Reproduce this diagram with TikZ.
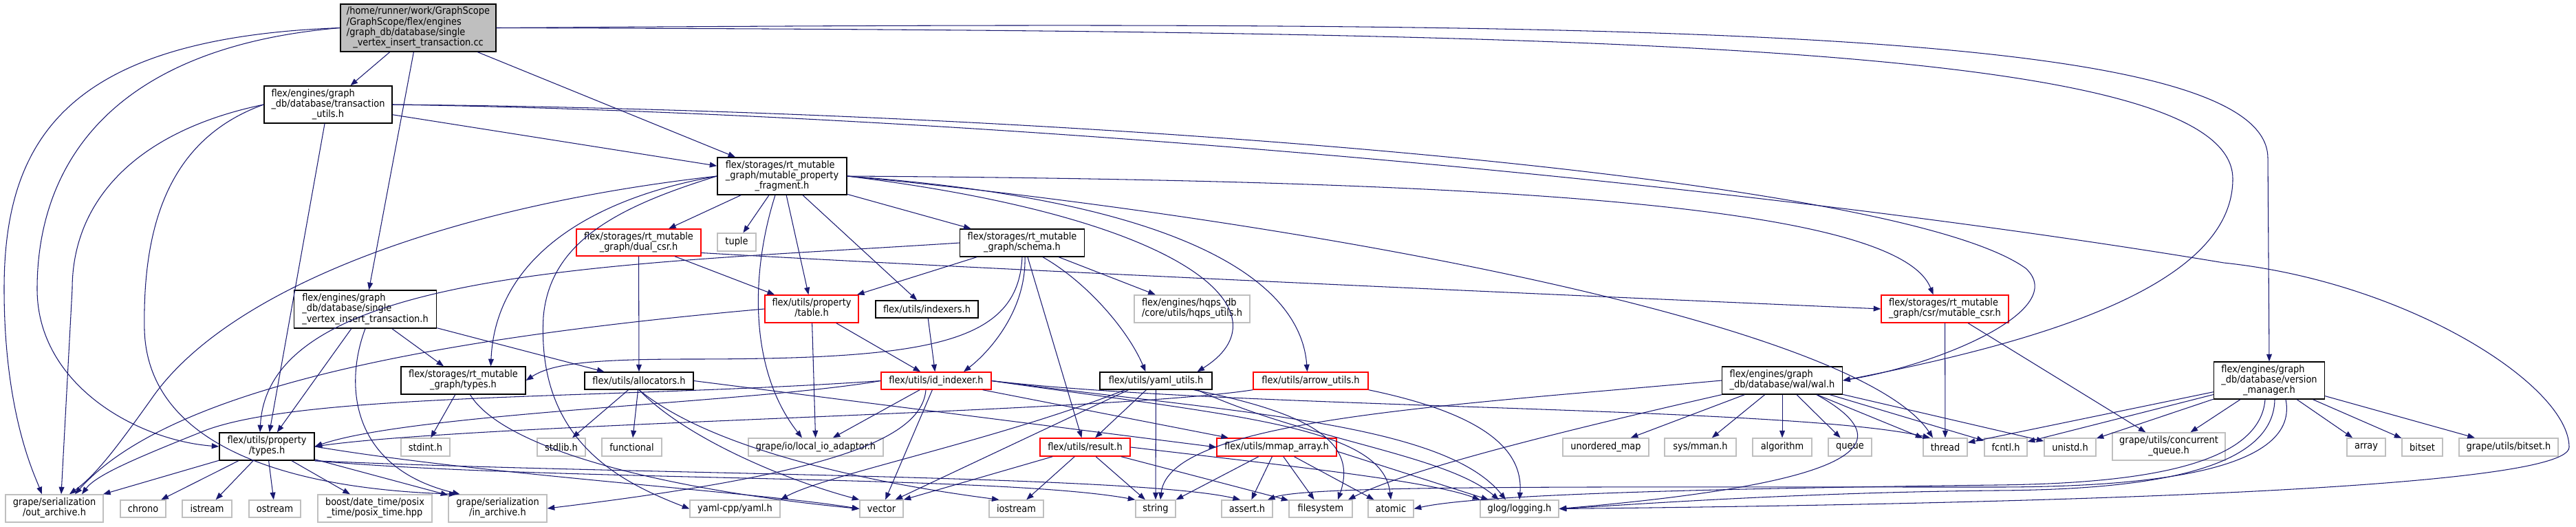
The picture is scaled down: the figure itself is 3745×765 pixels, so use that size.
\documentclass[tikz,border=0pt]{standalone}
\usepackage{fontspec}
\setmainfont{DejaVu Sans Condensed}
\usepackage{tikz}
\usetikzlibrary{arrows.meta,calc}
\definecolor{edgeBlue}{HTML}{191970}
\definecolor{sysGrey}{HTML}{BFBFBF}
\definecolor{rootFill}{HTML}{BFBFBF}
% label: left-aligned lines, last line centred (doxygen style)
\newcommand{\dl}[2]{\begin{tabular}{@{}l@{}}#1\\\multicolumn{1}{@{}c@{}}{#2}\end{tabular}}

\begin{document}
\begin{tikzpicture}[x=0.02cm, y=-0.02cm, >={Triangle[length=6pt,width=4.5pt]},
  box/.style={inner sep=0pt, line width=0.8pt, font=\fontsize{8.2}{8.25}\selectfont},
  sz/.style 2 args={minimum width={#1*0.02cm}, minimum height={#2*0.02cm}},
  doc/.style={box, draw=black},
  sys/.style={box, draw=sysGrey},
  trunc/.style={box, draw=red},
  dep/.style={->, draw=edgeBlue, line width=0.6pt}]
\useasboundingbox (0,0) rectangle (3745,765);

% documented headers
\node[doc, sz={226}{69}, fill=rootFill] (root) at (608,40.5) {\dl{/home/runner/work/GraphScope\\/GraphScope/flex/engines\\/graph\_db/database/single}{\_vertex\_insert\_transaction.cc}};
\node[doc, sz={186}{54}] (tutils) at (477,152) {\dl{flex/engines/graph\\\_db/database/transaction}{\_utils.h}};
\node[doc, sz={188}{54}] (mpf) at (1137,256) {\dl{flex/storages/rt\_mutable\\\_graph/mutable\_property}{\_fragment.h}};
\node[trunc, sz={181}{39}] (dualcsr) at (928.5,352.5) {\dl{flex/storages/rt\_mutable}{\_graph/dual\_csr.h}};
\node[sys, sz={56}{26}] (tuple) at (1071,352) {tuple};
\node[doc, sz={181}{40}] (schema) at (1486,353) {\dl{flex/storages/rt\_mutable}{\_graph/schema.h}};
\node[doc, sz={207}{55}] (svit) at (531,449.5) {\dl{flex/engines/graph\\\_db/database/single}{\_vertex\_insert\_transaction.h}};
\node[trunc, sz={136}{40}] (table) at (1180,449) {\dl{flex/utils/property}{/table.h}};
\node[doc, sz={149}{25}] (indexers) at (1347.5,449.5) {flex/utils/indexers.h};
\node[sys, sz={168}{40}] (hqps) at (1733,449) {\dl{flex/engines/hqps\_db}{/core/utils/hqps\_utils.h}};
\node[trunc, sz={185}{40}] (mutcsr) at (2827.5,449) {\dl{flex/storages/rt\_mutable}{\_graph/csr/mutable\_csr.h}};
\node[doc, sz={181}{40}] (rttypes) at (673.5,553) {\dl{flex/storages/rt\_mutable}{\_graph/types.h}};
\node[doc, sz={158}{25}] (alloc) at (929,553.5) {flex/utils/allocators.h};
\node[trunc, sz={160}{25}] (idindexer) at (1361,553.5) {flex/utils/id\_indexer.h};
\node[doc, sz={163}{25}] (yamlutils) at (1680.5,553.5) {flex/utils/yaml\_utils.h};
\node[trunc, sz={167}{25}] (arrowutils) at (1905.5,553.5) {flex/utils/arrow\_utils.h};
\node[doc, sz={175}{40}] (wal) at (2591,553) {\dl{flex/engines/graph}{\_db/database/wal/wal.h}};
\node[doc, sz={161}{54}] (vmgr) at (3299,553) {\dl{flex/engines/graph\\\_db/database/version}{\_manager.h}};
\node[doc, sz={138}{40}] (ptypes) at (388,649) {\dl{flex/utils/property}{/types.h}};
\node[trunc, sz={131}{26}] (result) at (1577.5,650) {flex/utils/result.h};
\node[trunc, sz={174}{26}] (mmap) at (1856,650) {flex/utils/mmap\_array.h};

% system and external headers
\foreach \nm/\cx/\bw/\tx in {stdint/618.5/71/stdint.h, stdlib/816/70/stdlib.h, functional/918.5/87/functional,
    unorderedmap/2334.5/125/unordered\_map, algorithm/2591/86/algorithm, queue/2689.5/63/queue,
    thread/2828/64/thread, fcntl/2916/62/fcntl.h, unistd/3009.5/75/unistd.h, array/3440/56/array, bitset/3521.5/59/bitset}
  \node[sys, sz={\bw}{26}] (\nm) at (\cx,650) {\tx};
\node[sys, sz={196}{26}] (localio) at (1186,650) {grape/io/local\_io\_adaptor.h};
\node[sys, sz={104}{26}] (sysmman) at (2472,650) {sys/mman.h};
\node[sys, sz={144}{26}] (gbitset) at (3647,650) {grape/utils/bitset.h};
\node[sys, sz={164}{40}] (cqueue) at (3153,649) {\dl{grape/utils/concurrent}{\_queue.h}};
\foreach \nm/\cx/\bw/\tx in {chrono/208/66/chrono, istream/301/72/istream, ostream/399.5/75/ostream,
    vector/1281.5/63/vector, iostream/1477.5/79/iostream, string/1680/58/string, assert/1813/74/assert.h,
    filesystem/1920/92/filesystem, atomic/2022/66/atomic}
  \node[sys, sz={\bw}{25}] (\nm) at (\cx,739.5) {\tx};
\node[sys, sz={131}{25}] (yamlcpp) at (1068.5,739.5) {yaml-cpp/yaml.h};
\node[sys, sz={114}{25}] (glog) at (2209,739.5) {glog/logging.h};
\node[sys, sz={142}{40}] (outar) at (79,739) {\dl{grape/serialization}{/out\_archive.h}};
\node[sys, sz={166}{40}] (posix) at (545,739) {\dl{boost/date\_time/posix}{\_time/posix\_time.hpp}};
\node[sys, sz={143}{40}] (inar) at (723.5,739) {\dl{grape/serialization}{/in\_archive.h}};

% root
\draw[dep] (root) -- (tutils);
\draw[dep] (root) -- (mpf);
\draw[dep] (root) -- (svit);
\draw[dep] (root.east) .. controls (2300,45) and (3246,60) .. (3246,260) .. controls (3246,420) and (2950,500) .. (wal.east);
\draw[dep] (root.east) .. controls (2300,30) and (3297,30) .. (3297,230) -- (vmgr.north);
\draw[dep] (root.west) .. controls (150,70) and (54,250) .. (54,420) .. controls (54,560) and (200,640) .. (ptypes.west);
\draw[dep] (root.west) .. controls (100,55) and (6,200) .. (6,420) .. controls (6,600) and (50,690) .. ($(outar.north)+(-18,0)$);

% transaction utils
\draw[dep] (tutils) -- (mpf);
\draw[dep] (tutils.east) .. controls (1500,160) and (2750,250) .. (2945,390) .. controls (3010,450) and (2820,530) .. (wal.east);
\draw[dep] (tutils.east) .. controls (1400,165) and (2500,260) .. (3233,382) .. controls (3500,410) and (3735,560) .. (3735,650) .. controls (3735,720) and (2700,735) .. (glog.east);
\draw[dep] (tutils) -- (ptypes);
\draw[dep] (tutils.west) .. controls (200,190) and (105,290) .. (105,420) -- ($(outar.north)+(10,0)$);
\draw[dep] (tutils.west) .. controls (250,200) and (207,320) .. (210,480) .. controls (215,640) and (400,710) .. ($(inar.north)+(-60,0)$);

% single vertex insert transaction
\draw[dep] (svit) -- (rttypes);
\draw[dep] (svit) -- (alloc);
\draw[dep] (svit) -- (ptypes);
\draw[dep] (svit.south) .. controls (500,560) and (510,680) .. ($(inar.north)+(-55,0)$);

% mutable property fragment
\draw[dep] (mpf) -- (dualcsr);
\draw[dep] (mpf) -- (tuple);
\draw[dep] (mpf) -- (schema);
\draw[dep] (mpf) -- (table);
\draw[dep] (mpf) -- (indexers);
\draw[dep] ($(mpf.south)+(-10,0)$) .. controls (1090,400) and (1090,540) .. ($(localio.north)+(-20,0)$);
\draw[dep] (mpf.east) .. controls (1750,320) and (1870,460) .. ($(yamlutils.north)+(60,0)$);
\draw[dep] (mpf.east) .. controls (1700,290) and (1890,400) .. ($(arrowutils.north)+(-5,0)$);
\draw[dep] (mpf.east) .. controls (2200,262) and (2760,300) .. ($(mutcsr.north)+(-17,0)$);
\draw[dep] (mpf.east) .. controls (1900,320) and (2700,470) .. ($(thread.north)+(-18,0)$);
\draw[dep] (mpf.west) .. controls (850,290) and (720,380) .. ($(rttypes.north)+(40,0)$);
\draw[dep] (mpf.west) .. controls (650,300) and (330,420) .. (220,580) .. controls (170,650) and (140,690) .. ($(outar.north)+(22,0)$);
\draw[dep] (mpf.west) .. controls (900,300) and (800,350) .. (790,460) .. controls (780,640) and (900,700) .. (yamlcpp.west);

% dual csr
\draw[dep] (dualcsr) -- (table);
\draw[dep] (dualcsr) -- (alloc);
\draw[dep] ($(dualcsr.east)+(0,15)$) .. controls (1500,395) and (2300,430) .. (mutcsr.west);

% schema
\draw[dep] (schema) -- (table);
\draw[dep] (schema) -- (hqps);
\draw[dep] ($(schema.south)+(4,0)$) .. controls (1492,450) and (1440,510) .. ($(idindexer.north)+(40,0)$);
\draw[dep] ($(schema.south)+(8,0)$) -- ($(result.north)+(-5,0)$);
\draw[dep] ($(schema.south)+(30,0)$) .. controls (1580,410) and (1640,480) .. ($(yamlutils.north)+(-15,0)$);
\draw[dep] (schema.south) .. controls (1480,500) and (1350,522) .. (1000,522) .. controls (850,522) and (800,530) .. (rttypes.east);
\draw[dep] (schema.west) .. controls (900,385) and (390,390) .. ($(ptypes.north)+(-10,0)$);

% property table, indexers
\draw[dep] (table) -- (idindexer);
\draw[dep] (table) -- (localio);
\draw[dep] (table.west) .. controls (650,490) and (250,560) .. ($(outar.north)+(30,0)$);
\draw[dep] (indexers) -- (idindexer);

% rt_mutable types, allocators
\draw[dep] (rttypes) -- (stdint);
\draw[dep] ($(rttypes.south)+(10,0)$) .. controls (730,650) and (950,710) .. (vector.west);
\draw[dep] (alloc) -- (stdlib);
\draw[dep] (alloc) -- (functional);
\draw[dep] (alloc.south) .. controls (1000,640) and (1150,700) .. (vector.north west);
\draw[dep] (alloc.south) .. controls (1030,650) and (1250,700) .. ($(iostream.north)+(-25,0)$);
\draw[dep] (alloc.east) -- (mmap.west);

% id indexer
\draw[dep] (idindexer) -- (localio);
\draw[dep] (idindexer) -- (vector);
\draw[dep] (idindexer) -- (mmap);
\draw[dep] ($(idindexer.south)+(-15,0)$) .. controls (1340,640) and (1200,690) .. (inar.east);
\draw[dep] (idindexer.west) .. controls (900,580) and (450,570) .. (300,625) .. controls (200,665) and (140,690) .. ($(outar.north)+(40,0)$);
\draw[dep] (idindexer.west) .. controls (1100,585) and (600,600) .. (ptypes.east);
\draw[dep] (idindexer.east) .. controls (1800,595) and (2600,590) .. ($(thread.north)+(-22,0)$);
\draw[dep] (idindexer.east) .. controls (1800,600) and (2100,615) .. ($(glog.north)+(-20,0)$);
\draw[dep] (idindexer.east) .. controls (1800,605) and (2010,620) .. (atomic.north);

% yaml utils
\draw[dep] ($(yamlutils.south)+(-45,0)$) .. controls (1450,640) and (1200,690) .. (yamlcpp.north east);
\draw[dep] ($(yamlutils.south)+(-40,0)$) -- ($(vector.north)+(20,0)$);
\draw[dep] (yamlutils) -- (result);
\draw[dep] (yamlutils) -- (string);
\draw[dep] ($(yamlutils.south)+(55,0)$) .. controls (1900,600) and (1975,640) .. ($(filesystem.north)+(25,0)$);
\draw[dep] ($(yamlutils.south)+(60,0)$) .. controls (1900,640) and (2100,660) .. ($(glog.north)+(-30,0)$);

% result, mmap array
\draw[dep] (result) -- (vector.north east);
\draw[dep] (result) -- (iostream);
\draw[dep] (result) -- (string);
\draw[dep] (result) -- (filesystem);
\draw[dep] (result.east) .. controls (1900,680) and (2080,700) .. (glog.north west);
\draw[dep] (mmap) -- (string.north east);
\draw[dep] (mmap) -- (assert);
\draw[dep] (mmap) -- (filesystem);
\draw[dep] (mmap) -- (atomic);
\draw[dep] ($(mmap.east)+(0,6)$) .. controls (2050,690) .. ($(glog.north)+(-45,0)$);

% arrow utils
\draw[dep] (arrowutils.south west) .. controls (1600,600) and (700,615) .. (ptypes.east);
\draw[dep] (arrowutils.south east) .. controls (2150,600) and (2215,650) .. (glog.north);

% wal
\foreach \t in {unorderedmap, sysmman, algorithm, queue, thread, fcntl, unistd}
  \draw[dep] (wal) -- (\t);
\draw[dep] ($(wal.south)+(50,0)$) .. controls (2760,640) and (2730,700) .. (glog.east);
\draw[dep] (wal.west) .. controls (2100,590) and (1700,610) .. ($(string.north)+(7,0)$);
\draw[dep] (wal.south west) .. controls (2300,620) and (2050,680) .. ($(filesystem.north)+(40,0)$);

% version manager, mutable csr
\foreach \t in {thread, fcntl, unistd, cqueue, array, bitset, gbitset}
  \draw[dep] (vmgr) -- (\t);
\draw[dep] ($(vmgr.south)+(-6,0)$) .. controls (3285,680) and (3100,703) .. (2900,705) .. controls (2500,710) and (2150,718) .. (atomic.east);
\draw[dep] ($(vmgr.south)+(8,0)$) .. controls (3305,690) and (3100,712) .. (2900,713) .. controls (2600,716) and (2350,735) .. (glog.east);
\draw[dep] ($(vmgr.south)+(24,0)$) .. controls (3345,690) and (3100,708) .. (2900,708) .. controls (2300,708) and (1900,705) .. ($(assert.north)+(30,0)$);
\draw[dep] (mutcsr) -- (thread);
\draw[dep] (mutcsr) -- (cqueue);

% property types
\foreach \t in {outar, chrono, istream, ostream, posix, inar}
  \draw[dep] (ptypes) -- (\t);
\draw[dep] (ptypes.east) .. controls (700,690) and (1100,715) .. (vector.west);
\draw[dep] (ptypes.south east) .. controls (800,700) and (1450,690) .. (string.north west);
\draw[dep] (ptypes.south east) .. controls (900,690) and (1650,690) .. ($(assert.north)+(-10,0)$);
\end{tikzpicture}
\end{document}
